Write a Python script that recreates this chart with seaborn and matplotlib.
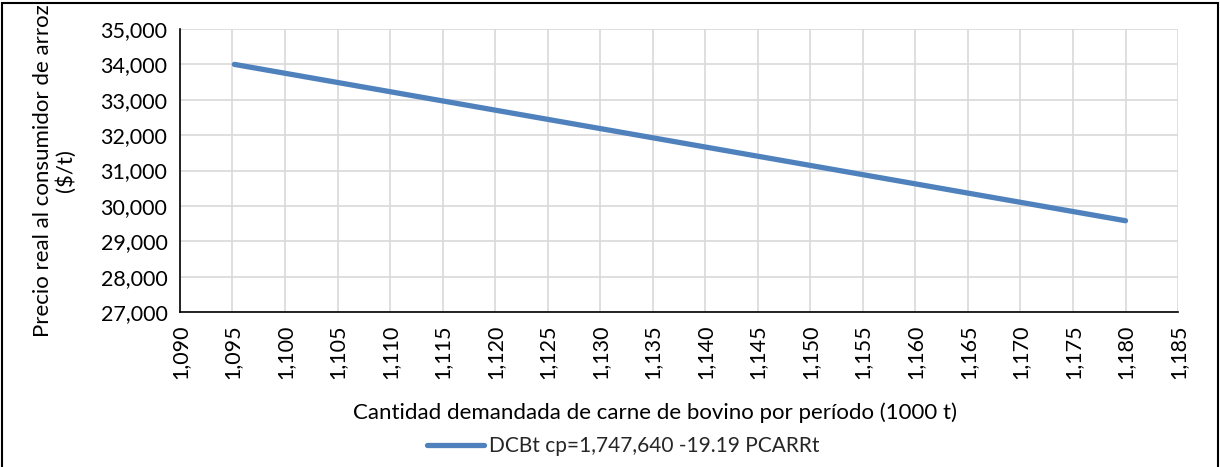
import matplotlib
matplotlib.use("Agg")
import matplotlib.pyplot as plt
import matplotlib.ticker as mticker
from matplotlib.patches import Rectangle
import numpy as np
import pandas as pd
import seaborn as sns

# Demand curve endpoints: quantity (1000 t) vs real consumer rice price ($/t)
cantidad = [1095.18, 1180.0]
precio = [34000, 29580]
serie = "DCBt cp=1,747,640 -19.19 PCARRt"

x_ticks = list(range(1090, 1186, 5))
y_ticks = list(range(27000, 35001, 1000))

df = pd.DataFrame({"cantidad": cantidad, "precio": precio, "serie": serie})

sns.set_theme(style="white")
plt.rcParams["font.family"] = ["Lato", "DejaVu Sans"]

fig = plt.figure(figsize=(12.2, 4.67), dpi=100)
ax = fig.add_axes([0.1475, 0.3319, 0.8181, 0.6060])

sns.lineplot(data=df, x="cantidad", y="precio", hue="serie",
             palette=["#4f81bd"], linewidth=3.8, ax=ax,
             solid_capstyle="round", legend=True)

ax.set_xlim(1090, 1185)
ax.set_ylim(27000, 35000)
ax.set_xticks(x_ticks)
ax.set_yticks(y_ticks)
ax.xaxis.set_major_formatter(mticker.FuncFormatter(lambda v, p: f"{int(v):,}"))
ax.yaxis.set_major_formatter(mticker.FuncFormatter(lambda v, p: f"{int(v):,}"))
ax.tick_params(axis="x", labelrotation=90, labelsize=15.5, direction="out",
               length=6, width=1.2, color="black", pad=3)
ax.tick_params(axis="y", labelsize=15.5, direction="out", length=6,
               width=1.2, color="black", pad=3)
for lbl in ax.get_xticklabels() + ax.get_yticklabels():
    lbl.set_color("black")

ax.grid(True, color="#d9d9d9", linewidth=1.2)
ax.set_axisbelow(True)
for s in ["top", "right"]:
    ax.spines[s].set_visible(False)
for s in ["left", "bottom"]:
    ax.spines[s].set_color("black")
    ax.spines[s].set_linewidth(1.2)

ax.set_xlabel("Cantidad demandada de carne de bovino por período (1000 t)",
              fontsize=16, color="black")
ax.xaxis.set_label_coords(0.476, -0.318)
ax.set_ylabel("Precio real al consumidor de arroz\n($/t)", fontsize=16,
              color="black", linespacing=1.15)
ax.yaxis.set_label_coords(-0.104, 0.5)

handles, labels = ax.get_legend_handles_labels()
ax.legend(handles, labels, loc="center", bbox_to_anchor=(0.511, 0.045),
          bbox_transform=fig.transFigure, frameon=False, fontsize=15,
          handlelength=2.7, handletextpad=0.25)

# Outer chart frame
fig.patches.append(Rectangle((2 / 1220, -0.01), 1216 / 1220, 1 - 3 / 467 + 0.01,
                             transform=fig.transFigure, fill=False,
                             edgecolor="black", linewidth=1.5))

fig.savefig("out.png", dpi=100, facecolor="white")
